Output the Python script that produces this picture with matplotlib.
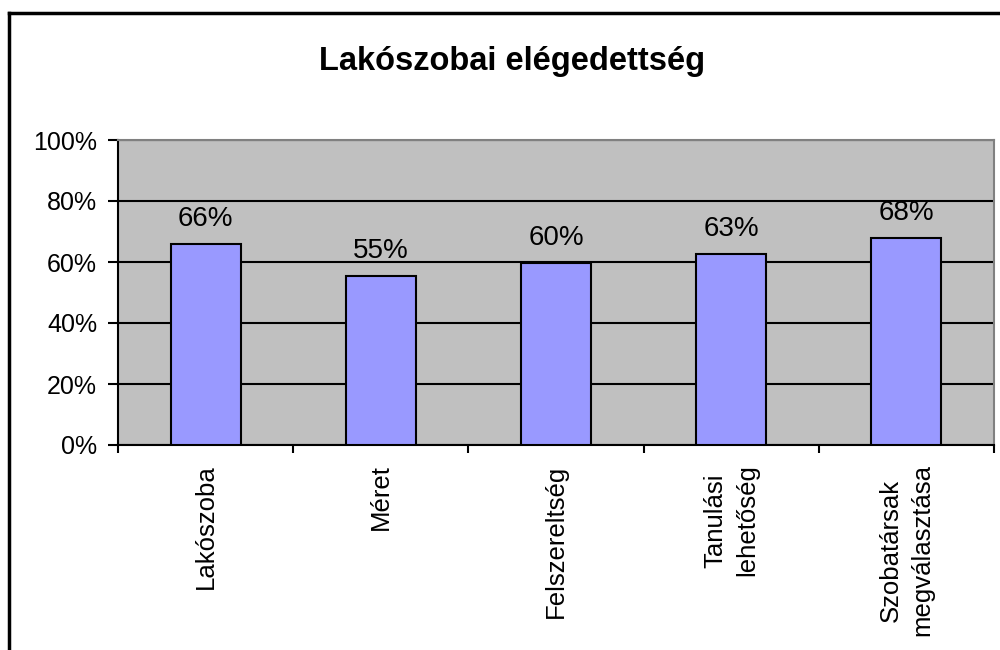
import matplotlib
matplotlib.use("Agg")
import matplotlib.pyplot as plt
from matplotlib.lines import Line2D

categories = ["Lakószoba", "Méret", "Felszereltség", "Tanulási\nlehetőség", "Szobatársak\nmegválasztása"]
values = [66.0, 55.4, 59.6, 62.6, 67.9]
value_labels = ["66%", "55%", "60%", "63%", "68%"]
ytick_vals = [0, 20, 40, 60, 80, 100]
ytick_labels = ["0%", "20%", "40%", "60%", "80%", "100%"]
title = "Lakószobai elégedettség"

plt.rcParams['font.family'] = ['Liberation Sans', 'DejaVu Sans']

fig = plt.figure(figsize=(10, 6.5), dpi=100)
ax = fig.add_axes([0.118, 1 - 445/650, 0.876, 305/650])
ax.set_facecolor("#C0C0C0")

x = list(range(len(categories)))
bars = ax.bar(x, values, width=0.4, color="#9999FF", edgecolor="black", linewidth=1.5, zorder=3)

for xi, v, lab in zip(x, values, value_labels):
    ax.annotate(lab, (xi, v), xytext=(0, 13), textcoords="offset points",
                ha="center", va="baseline", fontsize=20, zorder=4)

ax.set_ylim(0, 100)
ax.set_xlim(-0.5, len(categories) - 0.5)
ax.set_yticks(ytick_vals)
ax.set_yticklabels(ytick_labels, fontsize=18)
ax.yaxis.grid(True, color="black", linewidth=1.5, zorder=1)
ax.set_axisbelow(True)
ax.tick_params(axis="y", direction="out", length=7, width=1.5, pad=8)

ax.set_xticks([i - 0.5 for i in range(len(categories) + 1)])
ax.set_xticklabels([])
ax.tick_params(axis="x", which="major", direction="out", length=6, width=1.5)
ax.set_xticks(x, minor=True)
ax.set_xticklabels(categories, minor=True, rotation=90, fontsize=18.5,
                   multialignment="center", linespacing=1.4)
ax.tick_params(axis="x", which="minor", length=0, pad=14)

for s in ["left", "bottom"]:
    ax.spines[s].set_color("black")
    ax.spines[s].set_linewidth(1.5)
for s in ["top", "right"]:
    ax.spines[s].set_color("#808080")
    ax.spines[s].set_linewidth(1.5)

fig.text(0.512, 1 - 70/650, title, ha="center", va="baseline", fontsize=23.5, fontweight="bold")

fig.add_artist(Line2D([0.009, 0.009], [0, 1 - 13/650], color="black", linewidth=2.5, transform=fig.transFigure))
fig.add_artist(Line2D([0.009, 1.0], [1 - 13/650, 1 - 13/650], color="black", linewidth=2.5, transform=fig.transFigure))

fig.savefig("out.png", dpi=100)
